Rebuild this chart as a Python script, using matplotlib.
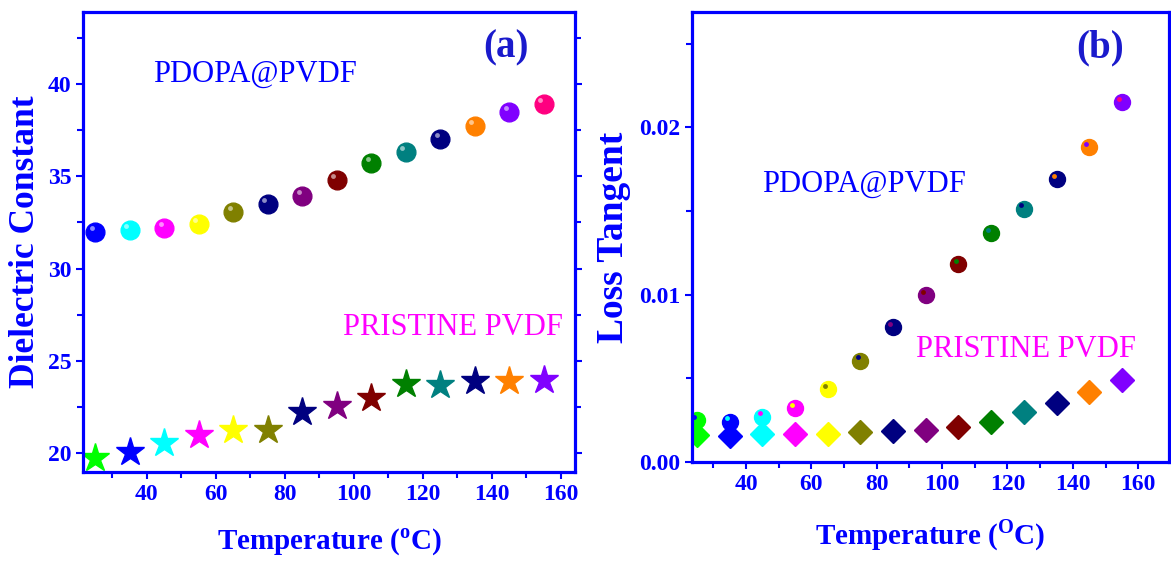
import matplotlib
matplotlib.use("Agg")
import matplotlib.pyplot as plt
from matplotlib.ticker import MultipleLocator, FormatStrFormatter
from matplotlib.transforms import offset_copy

plt.rcParams['font.family'] = ['Liberation Serif', 'DejaVu Serif']
plt.rcParams['mathtext.fontset'] = 'custom'
plt.rcParams['mathtext.rm'] = 'Liberation Serif'
plt.rcParams['mathtext.bf'] = 'Liberation Serif:bold'

# data
temps = [25, 35, 45, 55, 65, 75, 85, 95, 105, 115, 125, 135, 145, 155]

eps_pdopa = [31.98, 32.1, 32.2, 32.4, 33.07, 33.5, 33.95, 34.8, 35.7, 36.3, 37.0, 37.74, 38.5, 38.93]
eps_pristine = [19.75, 20.07, 20.57, 20.97, 21.27, 21.27, 22.26, 22.58, 22.97, 23.75, 23.7, 23.92, 23.92, 23.97]

tan_pdopa = [0.0025, 0.0024, 0.0027, 0.0032, 0.00435, 0.00605, 0.00805, 0.00998, 0.01182,
             0.01368, 0.01513, 0.01691, 0.01883, 0.02152]
tan_pristine = [0.0016, 0.00157, 0.00165, 0.0017, 0.0017, 0.0018, 0.00186, 0.0019, 0.0021,
                0.0024, 0.00296, 0.0035, 0.0042, 0.0049]

# marker colours
colors_sphere = ['#0000ff', '#00ffff', '#ff00ff', '#ffff00', '#808000', '#000080', '#800080',
                 '#800000', '#008000', '#008080', '#000080', '#ff8000', '#8000ff', '#ff0080']
colors_main = ['#00ff00', '#0000ff', '#00ffff', '#ff00ff', '#ffff00', '#808000', '#000080',
               '#800080', '#800000', '#008000', '#008080', '#000080', '#ff8000', '#8000ff']

BLUE = '#0000ff'
W, H = 1171, 561
fig = plt.figure(figsize=(W / 100, H / 100), dpi=100)
ax1 = fig.add_axes([83 / W, 1 - 471.7 / H, (575 - 83) / W, (471.7 - 12) / H])
ax2 = fig.add_axes([692 / W, 1 - 462 / H, (1169 - 692) / W, (462 - 12) / H])


def style(ax, right_ticks):
    for s in ax.spines.values():
        s.set_color(BLUE)
        s.set_linewidth(2.3)
    ax.tick_params(which='both', direction='out', color=BLUE, width=1.5,
                   labelcolor=BLUE, labelsize=17, right=right_ticks, top=False)
    ax.tick_params(which='major', length=5)
    ax.tick_params(which='minor', length=4)
    ax.tick_params(axis='y', which='both', labelright=False)
    for lab in ax.get_xticklabels() + ax.get_yticklabels():
        lab.set_fontweight('bold')
    ax.xaxis.set_major_locator(MultipleLocator(20))
    ax.xaxis.set_minor_locator(MultipleLocator(10))


# (a) dielectric constant
ax1.set_xlim(21.5, 164.1)
ax1.set_ylim(19, 43.9)
ax1.yaxis.set_major_locator(MultipleLocator(5))
ax1.yaxis.set_minor_locator(MultipleLocator(2.5))
ax1.set_xticks([40, 60, 80, 100, 120, 140, 160])
hl1 = offset_copy(ax1.transData, fig=fig, x=-2.5, y=3, units='points')
for x, y, c in zip(temps, eps_pdopa, colors_sphere):
    ax1.plot(x, y, 'o', ms=13.5, color=c, mec=c)
    ax1.plot(x, y, 'o', ms=3.5, color='white', alpha=0.55, mec='none', transform=hl1)
for x, y, c in zip(temps, eps_pristine, colors_main):
    ax1.plot(x, y, '*', ms=21, color=c, mec=c)
style(ax1, True)
ax1.set_ylabel('Dielectric Constant', color=BLUE, fontsize=25.5, fontweight='bold', labelpad=4)
ax1.set_xlabel(r'Temperature ($^\mathbf{o}$C)', color=BLUE, fontsize=21, fontweight='bold', labelpad=16)
ax1.text(71.4, 40.5, 'PDOPA@PVDF', color=BLUE, fontsize=22, ha='center', va='center')
ax1.text(128.6, 26.8, 'PRISTINE PVDF', color='#ff00ff', fontsize=22, ha='center', va='center')
ax1.text(144, 41.95, '(a)', color='#1a1acc', fontsize=28, fontweight='bold', ha='center', va='center')

# (b) loss tangent
ax2.set_xlim(23.5, 169.4)
ax2.set_ylim(0, 0.0269)
ax2.yaxis.set_major_locator(MultipleLocator(0.01))
ax2.yaxis.set_minor_locator(MultipleLocator(0.005))
ax2.yaxis.set_major_formatter(FormatStrFormatter('%.2f'))
ax2.set_xticks([40, 60, 80, 100, 120, 140, 160])
hl2 = offset_copy(ax2.transData, fig=fig, x=-2, y=2.5, units='points')
for x, y, c in zip(temps, tan_pristine, colors_main):
    ax2.plot(x, y, 'D', ms=12, color=c, mec=c)
for x, y, c, h in zip(temps, tan_pdopa, colors_main, colors_sphere):
    ax2.plot(x, y, 'o', ms=11.5, color=c, mec=c)
    ax2.plot(x, y, 'o', ms=3.5, color=h, mec='none', transform=hl2)
style(ax2, False)
ax2.set_ylabel('Loss Tangent', color=BLUE, fontsize=27, fontweight='bold', labelpad=6)
ax2.set_xlabel(r'Temperature ($^\mathbf{O}$C)', color=BLUE, fontsize=21, fontweight='bold', labelpad=16)
ax2.text(76.1, 0.01663, 'PDOPA@PVDF', color=BLUE, fontsize=22, ha='center', va='center')
ax2.text(125.6, 0.00675, 'PRISTINE PVDF', color='#ff00ff', fontsize=22, ha='center', va='center')
ax2.text(148.3, 0.02477, '(b)', color='#1a1acc', fontsize=28, fontweight='bold', ha='center', va='center')

fig.savefig('out.png', dpi=100)
